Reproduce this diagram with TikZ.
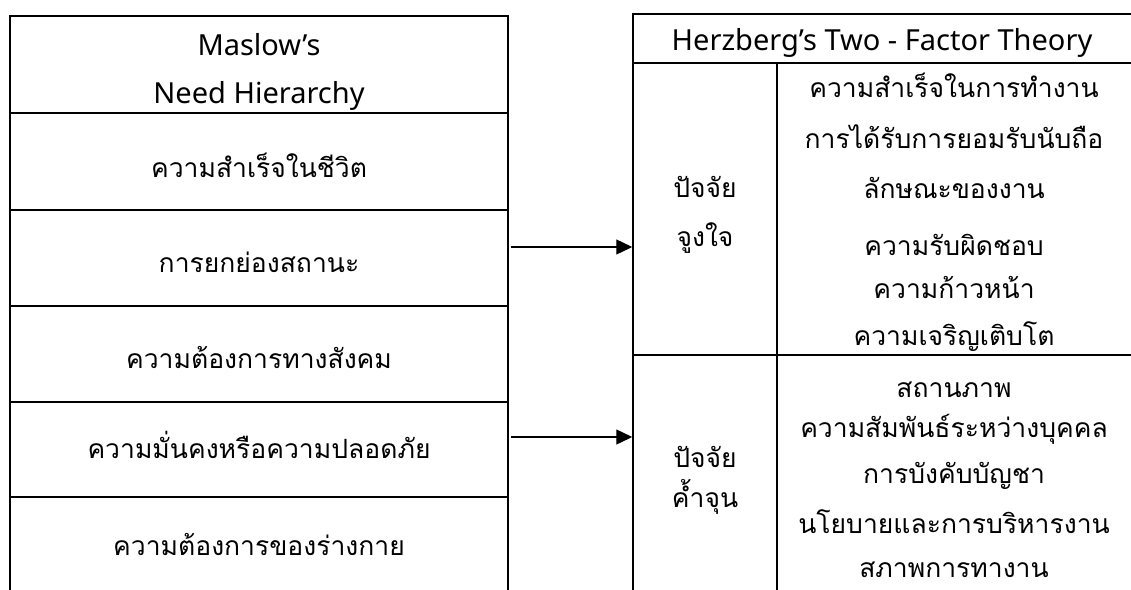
\documentclass[tikz,border=0pt]{standalone}
\usepackage{fontspec}
\newfontfamily\thai[Script=Thai]{Loma}
\newfontfamily\latin{Noto Sans}
\usetikzlibrary{arrows.meta}
\begin{document}
\begin{tikzpicture}[x=1pt,y=-1pt,
  cell/.style={draw, line width=1.5pt, rectangle, inner sep=0pt},
  lbl/.style={anchor=base, inner sep=0pt, font=\thai\fontsize{26.5}{32}\selectfont},
  lat/.style={anchor=base, inner sep=0pt, font=\latin\fontsize{29}{34}\selectfont},
  arr/.style={line width=1.3pt, -{Triangle[length=16pt,width=15pt]}}]
\useasboundingbox (0,0) rectangle (1131,589);
\clip (0,0) rectangle (1131,589);
% left table cells
\node[cell, minimum width=498pt, minimum height=97pt] (mh) at (259,64.5) {};
\node[cell, minimum width=498pt, minimum height=97pt] (m1) at (259,161.5) {};
\node[cell, minimum width=498pt, minimum height=96pt] (m2) at (259,258) {};
\node[cell, minimum width=498pt, minimum height=96pt] (m3) at (259,354) {};
\node[cell, minimum width=498pt, minimum height=95pt] (m4) at (259,449.5) {};
\node[cell, minimum width=498pt, minimum height=96pt] (m5) at (259,545) {};
% left texts
\node[lat] (tmh1) at (259,55) {Maslow’s};
\node[lat] (tmh2) at (259,103) {Need Hierarchy};
\node[lbl] (tm1) at (259,177) {ความสำเร็จในชีวิต};
\node[lbl] (tm2) at (259,272) {การยกย่องสถานะ};
\node[lbl] (tm3) at (259,368) {ความต้องการทางสังคม};
\node[lbl] (tm4) at (259,458) {ความมั่นคงหรือความปลอดภัย};
\node[lbl] (tm5) at (259,555) {ความต้องการของร่างกาย};
% right table cells
\node[cell, minimum width=510pt, minimum height=49pt] (hh) at (888,38.5) {};
\node[cell, minimum width=144pt, minimum height=292pt] (hm1) at (705,209) {};
\node[cell, minimum width=366pt, minimum height=292pt] (hm2) at (960,209) {};
\node[cell, minimum width=144pt, minimum height=260pt] (hg1) at (705,485) {};
\node[cell, minimum width=366pt, minimum height=260pt] (hg2) at (960,485) {};
% right texts
\node[lat] (thh) at (882,50) {Herzberg’s Two - Factor Theory};
\node[lbl] (tma) at (705,197) {ปัจจัย};
\node[lbl] (tmb) at (705,246) {จูงใจ};
\node[lbl] (tga) at (705,467) {ปัจจัย};
\node[lbl] (tgb) at (705,507) {ค้ำจุน};
\node[lbl] (r1) at (954,97) {ความสำเร็จในการทำงาน};
\node[lbl] (r2) at (954,148) {การได้รับการยอมรับนับถือ};
\node[lbl] (r3) at (954,198) {ลักษณะของงาน};
\node[lbl] (r4) at (954,255) {ความรับผิดชอบ};
\node[lbl] (r5) at (954,298) {ความก้าวหน้า};
\node[lbl] (r6) at (954,345) {ความเจริญเติบโต};
\node[lbl] (s1) at (954,397) {สถานภาพ};
\node[lbl] (s2) at (954,437) {ความสัมพันธ์ระหว่างบุคคล};
\node[lbl] (s3) at (954,483) {การบังคับบัญชา};
\node[lbl] (s4) at (954,533) {นโยบายและการบริหารงาน};
\node[lbl] (s5) at (954,577) {สภาพการทางาน};
% arrows
\coordinate (a1) at (511,247);
\coordinate (a2) at (511,437);
\draw[arr] (a1) -- (a1 -| hm1.west);
\draw[arr] (a2) -- (a2 -| hg1.west);
\end{tikzpicture}
\end{document}
